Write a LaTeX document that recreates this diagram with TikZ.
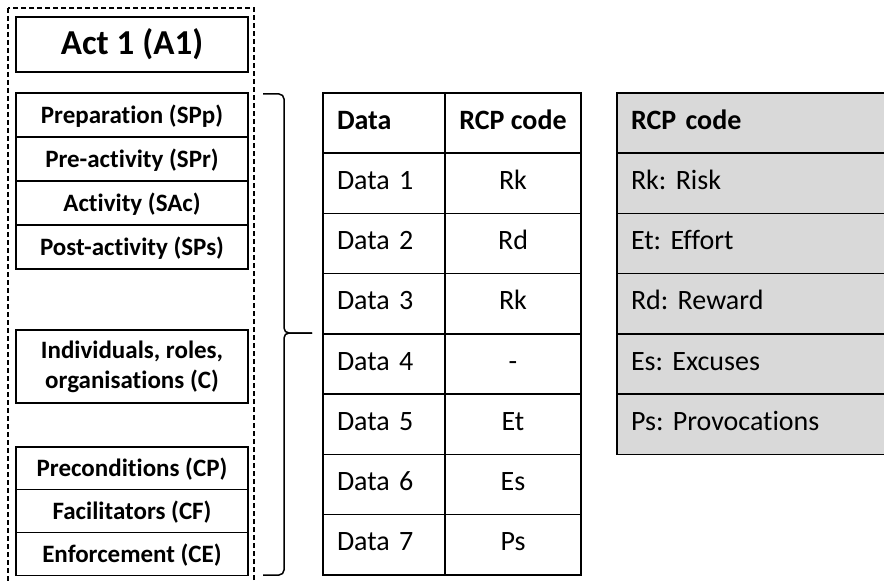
\documentclass[tikz,border=0pt]{standalone}
\usepackage{fontspec}
\setmainfont{Carlito}[Ligatures=NoCommon]
\frenchspacing
\usetikzlibrary{calc}
\definecolor{keygrey}{HTML}{D9D9D9}
\tikzstyle{actbox} = [rectangle, draw, line width=1.2pt, outer sep=0pt,
    minimum width=232pt, minimum height=55pt, font=\fontsize{35}{40}\selectfont\bfseries]
\tikzstyle{phase} = [rectangle, draw, line width=1.2pt, outer sep=0pt, inner sep=0pt,
    minimum width=232pt, minimum height=44pt, text height=17pt, text depth=0pt,
    font=\fontsize{25}{30}\selectfont\bfseries]
\tikzstyle{context} = [phase, minimum height=42.7pt]
\tikzstyle{actor} = [rectangle, draw, line width=1.2pt, outer sep=0pt, inner sep=0pt,
    minimum width=232pt, minimum height=73pt, align=center,
    font=\fontsize{25}{30}\selectfont\bfseries]
\tikzstyle{datacell} = [rectangle, draw, line width=1.5pt, outer sep=0pt,
    minimum height=60.25pt, text width=94pt, inner xsep=14pt, inner ysep=0pt, align=left,
    text height=12pt, text depth=0pt, font=\fontsize{28}{34}\selectfont]
\tikzstyle{codecell} = [rectangle, draw, line width=1.5pt, outer sep=0pt, inner sep=0pt,
    minimum width=136pt, minimum height=60.25pt,
    text height=12pt, text depth=0pt, font=\fontsize{28}{34}\selectfont]
\tikzstyle{keycell} = [rectangle, draw, fill=keygrey, line width=1.5pt, outer sep=0pt,
    minimum height=60.25pt, text width=242pt, inner xsep=14pt, inner ysep=0pt, align=left,
    text height=12pt, text depth=0pt, font=\fontsize{28}{34}\selectfont]
\tikzstyle{frame} = [draw, line width=1.2pt, dash pattern=on 5pt off 3pt]
\tikzstyle{brace} = [draw, line width=1.5pt, rounded corners=5pt]

\begin{document}
\begin{tikzpicture}[x=1pt, y=-1pt]
    \useasboundingbox (0,0) rectangle (884,583);

    % Act column
    \draw [frame] (8,8) rectangle (254,595);
    \node [actbox] (act) at (132,44.5) {Act 1 (A1)};
    \node [phase] (prep) at (132,115) {Preparation (SPp)};
    \node [phase, below of=prep, node distance=44pt] (preact) {Pre-activity (SPr)};
    \node [phase, below of=preact, node distance=44pt] (activity) {Activity (SAc)};
    \node [phase, below of=activity, node distance=44pt] (postact) {Post-activity (SPs)};
    \node [actor, minimum height=73pt] (actors) at (132,366.5) {\raisebox{-2pt}{\parbox{200pt}{\centering Individuals, roles,\\organisations (C)}}};
    \node [context] (precond) at (132,468.35) {Preconditions (CP)};
    \node [context, below of=precond, node distance=42.7pt] (facil) {Facilitators (CF)};
    \node [context, below of=facil, node distance=42.7pt] (enforce) {Enforcement (CE)};

    % Brace
    \coordinate (bracetop) at (263,94);
    \coordinate (bracetip) at (312,333);
    \coordinate (bracebot) at (263,575);
    \draw [brace] (bracetop) -| (284,333) -- (bracetip);
    \draw [brace] (bracetip) -- (284,333) |- (bracebot);

    % Data table
    \node [datacell, font=\fontsize{28}{34}\selectfont\bfseries] (data) at (384,123.1) {Data};
    \node [codecell, right of=data, node distance=129pt, font=\fontsize{28}{34}\selectfont\bfseries] (code) {RCP code};
    \node [datacell, below of=data, node distance=60.25pt] (data1) {Data 1};
    \node [datacell, below of=data1, node distance=60.25pt] (data2) {Data 2};
    \node [datacell, below of=data2, node distance=60.25pt] (data3) {Data 3};
    \node [datacell, below of=data3, node distance=60.25pt] (data4) {Data 4};
    \node [datacell, below of=data4, node distance=60.25pt] (data5) {Data 5};
    \node [datacell, below of=data5, node distance=60.25pt] (data6) {Data 6};
    \node [datacell, below of=data6, node distance=60.25pt] (data7) {Data 7};
    \node [codecell, right of=data1, node distance=129pt] (code1) {Rk};
    \node [codecell, right of=data2, node distance=129pt] (code2) {Rd};
    \node [codecell, right of=data3, node distance=129pt] (code3) {Rk};
    \node [codecell, right of=data4, node distance=129pt] (code4) {-};
    \node [codecell, right of=data5, node distance=129pt] (code5) {Et};
    \node [codecell, right of=data6, node distance=129pt] (code6) {Es};
    \node [codecell, right of=data7, node distance=129pt] (code7) {Ps};

    % Code key
    \node [keycell, font=\fontsize{28}{34}\selectfont\bfseries] (key) at (752,123.1) {RCP code};
    \node [keycell, below of=key, node distance=60.25pt] (risk) {Rk: Risk};
    \node [keycell, below of=risk, node distance=60.25pt] (effort) {Et: Effort};
    \node [keycell, below of=effort, node distance=60.25pt] (reward) {Rd: Reward};
    \node [keycell, below of=reward, node distance=60.25pt] (excuses) {Es: Excuses};
    \node [keycell, below of=excuses, node distance=60.25pt] (provoc) {Ps: Provocations};

\end{tikzpicture}
\end{document}
